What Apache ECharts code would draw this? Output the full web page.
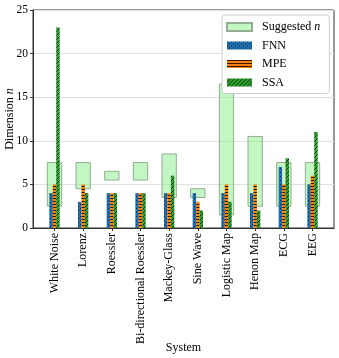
<!DOCTYPE html>
<html><head><meta charset="utf-8">
<script src="https://cdn.jsdelivr.net/npm/echarts@6/dist/echarts.min.js"></script>
<style>html,body{margin:0;padding:0;background:#fff}#c{width:339px;height:358px}</style>
</head><body><div id="c"></div>
<script>
const categories = ['White Noise','Lorenz','Roessler','Bi-directional Roessler','Mackey-Glass','Sine Wave','Logistic Map','Henon Map','ECG','EEG'];
const suggestedLow  = [2.5, 4.5, 5.5, 5.5, 3.5, 3.5, 1.5, 2.5, 2.5, 2.5];
const suggestedHigh = [7.5, 7.5, 6.5, 7.5, 8.5, 4.5, 16.5, 10.5, 7.5, 7.5];
const fnn = [4, 3, 4, 4, 4, 4, 4, 4, 7, 5];
const mpe = [5, 5, 4, 4, 4, 3, 5, 5, 5, 6];
const ssa = [23, 4, 4, 4, 6, 2, 3, 2, 8, 11];
const yTicks = [0, 5, 10, 15, 20, 25];

function mkPattern(bg, fg, kind) {
  const c = document.createElement('canvas');
  const n = kind === 'lines' ? 3 : 4;
  c.width = n; c.height = n;
  const g = c.getContext('2d');
  g.fillStyle = bg; g.fillRect(0, 0, n, n);
  g.fillStyle = fg;
  if (kind === 'dots') { g.fillRect(0, 0, 1, 1); g.fillRect(2, 2, 1, 1); }
  else if (kind === 'lines') { g.fillRect(0, 0, n, 1); }
  else if (kind === 'diag') { for (let i = 0; i < n; i++) g.fillRect(n - 1 - i, i, 1, 1); }
  return { image: c, repeat: 'repeat' };
}
const pFNN = mkPattern('#1f6fae', '#0a2540', 'dots');
const pMPE = mkPattern('#ff7f0e', '#3a1800', 'lines');
const pSSA = mkPattern('#2ca02c', '#0b360b', 'diag');

const FONT = 'Liberation Serif';
const FS = 12;
const chart = echarts.init(document.getElementById('c'), null, { renderer: 'canvas' });

function barRender(offset, width, fill) {
  return function (params, api) {
    const x = api.value(0), v = api.value(1);
    const p0 = api.coord([x + offset - width / 2, v]);
    const p1 = api.coord([x + offset + width / 2, 0]);
    return { type: 'rect', shape: { x: p0[0], y: p0[1], width: p1[0] - p0[0], height: p1[1] - p0[1] },
      style: { fill: fill } };
  };
}

const boxData = categories.map((c, i) => [i, suggestedLow[i], suggestedHigh[i]]);
const idx = categories.map((c, i) => i);

chart.setOption({
  animation: false,
  textStyle: { fontFamily: FONT },
  grid: { left: 33, right: 5, top: 10, bottom: 130, outerBoundsMode: 'none', containLabel: false,
    show: true, borderColor: '#333', borderWidth: 1, backgroundColor: 'transparent' },
  legend: {
    orient: 'vertical', left: 222, top: 15,
    backgroundColor: '#fff', borderColor: '#ccc', borderWidth: 1, borderRadius: 3,
    padding: [6, 9, 5, 4], itemWidth: 25, itemHeight: 8, itemGap: 6.5, icon: 'rect',
    textStyle: { fontFamily: FONT, fontSize: FS, color: '#000', padding: [0, 0, 0, 5],
      rich: { i: { fontStyle: 'italic', fontFamily: FONT, fontSize: FS } } },
    formatter: n => n === 'Suggested n' ? 'Suggested {i|n}' : n,
    data: ['Suggested n', 'FNN', 'MPE', 'SSA']
  },
  xAxis: {
    type: 'value', min: -0.75, max: 9.75,
    name: 'System', nameLocation: 'middle', nameGap: 114, nameMoveOverlap: false,
    nameTextStyle: { fontFamily: FONT, fontSize: FS, color: '#000' },
    splitLine: { show: false },
    axisLine: { show: true, onZero: false, lineStyle: { color: '#333' } },
    axisTick: { show: true, customValues: idx, length: 3, lineStyle: { color: '#333' } },
    axisLabel: { customValues: idx, rotate: 90, margin: 5, fontFamily: FONT, fontSize: FS, color: '#000',
      formatter: v => categories[Math.round(v)] }
  },
  yAxis: {
    type: 'value', min: 0, max: 25, interval: 5,
    name: 'Dimension {i|n}', nameLocation: 'middle', nameGap: 17, nameMoveOverlap: false,
    nameTextStyle: { fontFamily: FONT, fontSize: FS, color: '#000',
      rich: { i: { fontStyle: 'italic', fontFamily: FONT, fontSize: FS } } },
    axisLine: { show: true, onZero: false, lineStyle: { color: '#333' } },
    axisTick: { show: true, length: 3, lineStyle: { color: '#333' } },
    axisLabel: { fontFamily: FONT, fontSize: 11.5, color: '#000', margin: 5,
      formatter: v => yTicks.includes(v) ? String(v) : '' },
    splitLine: { show: true, lineStyle: { color: '#e0e0e0', width: 1 } }
  },
  series: [
    { name: 'Suggested n', type: 'custom', data: boxData, encode: { x: 0, y: [1, 2] }, z: 2,
      itemStyle: { color: 'rgba(144,238,144,0.55)', borderColor: '#92ad92', borderWidth: 1 },
      renderItem: function (params, api) {
        const x = api.value(0), lo = api.value(1), hi = api.value(2);
        const p0 = api.coord([x - 0.25, hi]);
        const p1 = api.coord([x + 0.25, lo]);
        return { type: 'rect', shape: { x: p0[0], y: p0[1], width: p1[0] - p0[0], height: p1[1] - p0[1] },
          style: { fill: 'rgba(144,238,144,0.55)', stroke: '#92ad92', lineWidth: 1 } };
      } },
    { name: 'FNN', type: 'custom', data: categories.map((c, i) => [i, fnn[i]]), encode: { x: 0, y: 1 }, z: 3,
      itemStyle: { color: pFNN }, renderItem: barRender(-0.12, 0.12, pFNN) },
    { name: 'MPE', type: 'custom', data: categories.map((c, i) => [i, mpe[i]]), encode: { x: 0, y: 1 }, z: 3,
      itemStyle: { color: pMPE }, renderItem: barRender(0, 0.12, pMPE) },
    { name: 'SSA', type: 'custom', data: categories.map((c, i) => [i, ssa[i]]), encode: { x: 0, y: 1 }, z: 3,
      itemStyle: { color: pSSA }, renderItem: barRender(0.12, 0.12, pSSA) }
  ]
});
</script></body></html>
